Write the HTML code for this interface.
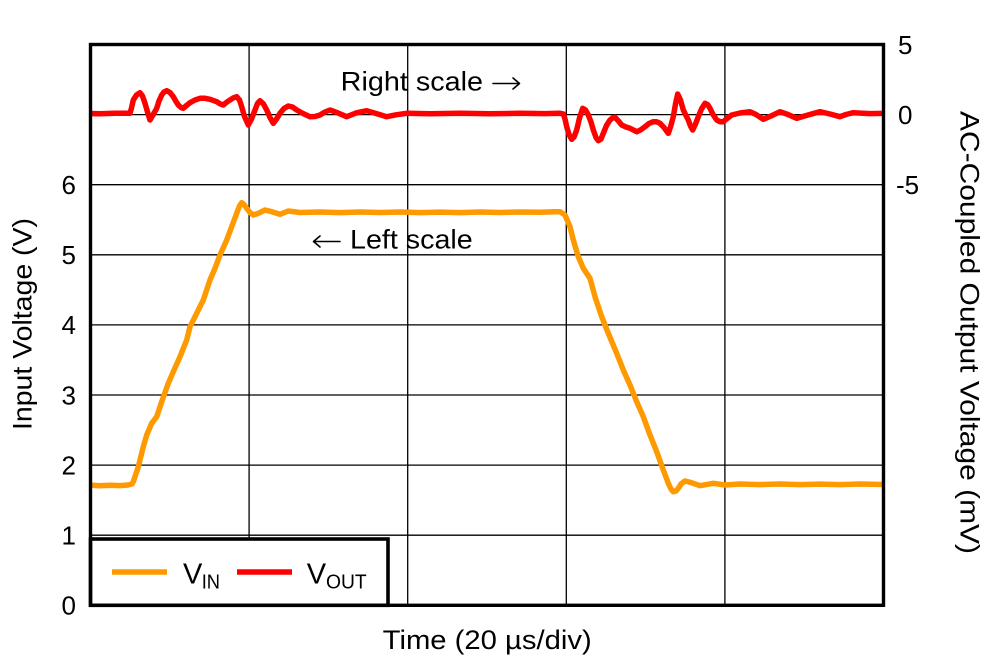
<!DOCTYPE html>
<html>
<head>
<meta charset="utf-8">
<style>
  html, body { margin: 0; padding: 0; background: #ffffff; }
  svg { display: block; }
  text { font-family: "Liberation Sans", Arial, sans-serif; fill: #000; }
</style>
</head>
<body>
<svg width="998" height="668" viewBox="0 0 998 668" xmlns="http://www.w3.org/2000/svg">
  <defs>
    <clipPath id="plot">
      <rect x="90.5" y="44.5" width="793" height="561"/>
    </clipPath>
  </defs>
  <rect x="0" y="0" width="998" height="668" fill="#ffffff"/>

  <!-- grid -->
  <g stroke="#000" stroke-width="1.3" fill="none">
    <line x1="90.5" y1="535.2" x2="883.5" y2="535.2"/>
    <line x1="90.5" y1="465.1" x2="883.5" y2="465.1"/>
    <line x1="90.5" y1="395.0" x2="883.5" y2="395.0"/>
    <line x1="90.5" y1="324.9" x2="883.5" y2="324.9"/>
    <line x1="90.5" y1="254.8" x2="883.5" y2="254.8"/>
    <line x1="90.5" y1="184.7" x2="883.5" y2="184.7"/>
    <line x1="90.5" y1="114.6" x2="883.5" y2="114.6"/>
    <line x1="249.1" y1="44.5" x2="249.1" y2="605.3"/>
    <line x1="407.7" y1="44.5" x2="407.7" y2="605.3"/>
    <line x1="566.3" y1="44.5" x2="566.3" y2="605.3"/>
    <line x1="724.9" y1="44.5" x2="724.9" y2="605.3"/>
  </g>

  <!-- traces -->
  <g clip-path="url(#plot)" fill="none" stroke-width="5.5" stroke-linejoin="round" stroke-linecap="round">
    <polyline stroke="#FF9900" points="88,485 100,485.8 110,485.2 120,485.6 128,485 132,484 133.3,481.7 138.3,466.7 143.3,446.7 146.7,435 151.7,423.3 156.7,416.7 161.7,401.7 168.3,383.3 173.3,371.7 180,356.7 186.7,340 190,326.7 196.7,313.3 203.3,300 210,280 215,268.3 220,255 226.7,240 231.7,226.7 236.7,213.3 239.5,206 241.7,202.7 244,204.5 246.7,208.3 250,212.5 253.3,215 258.3,213.3 265,210 271.7,211.7 280,214.3 288.3,211 300,212.5 320,212 340,212.6 360,212 380,212.5 400,212 420,212.6 440,212.1 460,212.6 480,212 500,212.5 520,212 540,212.2 555,211.7 560,211.7 565,215 570,226.7 573.3,240 578.3,256.7 583.3,268.3 590,278.3 595,296.7 601.7,316.7 608.3,333.3 616.7,353.3 623.3,370 630,385 636.7,401.7 643.3,416.7 650,435 656.7,451.7 663.3,470 668.3,483.3 671,489 673.3,491.7 676,491 678.3,488.3 681,484 685,481 689,482 693.3,483.3 700,485.7 713.3,483.3 725,485 740,484 760,484.6 780,484 800,484.6 820,484.1 840,484.6 860,484 886,484.5"/>
    <polyline stroke="#FF0000" points="88,113.5 100,113.8 115,113.2 130,113.3 131.5,108 133.3,100 136.5,95 140,92.7 142.5,96 145,103.3 147.5,112 150,120 153,115 156.7,108.3 159,101 161.7,95 164,92 166.7,90.7 170,92.5 173.3,96.7 176,101.5 178.3,105 181,107.5 183.3,108.3 186.5,105.5 190,102.7 195,100 200,98.3 205,98.3 210,99.3 216.7,101.7 220,103.8 223.3,105 227,102 230,100 233.5,97.8 236.7,96.7 239.5,100 241.7,106.7 244.5,116.5 248.3,125 251.5,119 255,110 257.5,103.5 260,100.7 263.5,104 266.7,110 270,117.5 273.3,123.3 276.5,119 280,113.3 284,108.5 288.3,106 292.5,107 296.7,110 303,113.5 310,116.7 315,116.5 320,115 325,112 330,110 338,113 346.7,116.7 356,113 366.7,110.7 376,113.5 386.7,116.7 396,114.8 406.7,113.3 430,113.8 460,113.2 490,113.8 520,113.3 545,113.6 560,113.3 563.3,114 565,119 566.7,126.7 569,134.5 571.7,139.3 574,137 576.7,130 579.5,118 582.7,108.3 585.5,110 588.3,115 591,122 593.3,130 596,137.5 598.3,140.7 601,139 603.3,133.3 606.5,125.5 610,120 612.5,118 615,117.3 618.5,121 621.7,125 626,127 630,128.3 636.7,131.7 640.5,130 645,126.7 649,123.5 653.3,121.7 656.5,121.7 660,123.3 664,127.5 668.3,133.3 670.5,127 673.3,116.7 675.5,104 677.7,94 680.5,100 683.3,110 686,115.5 688.3,120 690.5,126 692.7,130 695.5,124 698.3,116.7 701.5,109 705,103.3 707.5,104.5 710,108.3 713,114.5 716.7,120 720,121.7 723.3,121.7 727,118.5 731.7,115 740,113 750,111.7 756,114.5 763.3,119.3 771,116 780,111.7 788,114.5 796.7,118.3 808,115 820,111.7 830,114 840,116.7 846,114.5 853.3,112.7 870,113.6 886,113.3"/>
  </g>

  <!-- annotations -->
  <text x="340.7" y="90.7" font-size="27" textLength="142.3" lengthAdjust="spacingAndGlyphs">Right scale</text>
  <g stroke="#000" stroke-width="1.6" fill="none" stroke-linecap="round" stroke-linejoin="round">
    <line x1="493" y1="83.5" x2="519" y2="83.5"/>
    <polyline points="513,78 519.5,83.5 513,89"/>
    <line x1="314" y1="241.5" x2="340" y2="241.5"/>
    <polyline points="320,236 313.5,241.5 320,247"/>
  </g>
  <text x="350" y="248.3" font-size="27" textLength="122.7" lengthAdjust="spacingAndGlyphs">Left scale</text>

  <!-- legend -->
  <rect x="90.5" y="539" width="297.5" height="66.3" fill="#ffffff" stroke="#000" stroke-width="3.6"/>
  <line x1="112" y1="572" x2="167" y2="572" stroke="#FF9900" stroke-width="5.5"/>
  <line x1="237" y1="572" x2="292" y2="572" stroke="#FF0000" stroke-width="5.5"/>
  <text x="183" y="583.3" font-size="29">V</text>
  <text x="201.7" y="588.3" font-size="20" textLength="18.3" lengthAdjust="spacingAndGlyphs">IN</text>
  <text x="306.7" y="583.3" font-size="29">V</text>
  <text x="326" y="588.3" font-size="20" textLength="40.7" lengthAdjust="spacingAndGlyphs">OUT</text>

  <!-- frame -->
  <rect x="90.5" y="44.5" width="793" height="560.8" fill="none" stroke="#000" stroke-width="3.4"/>

  <!-- left tick labels -->
  <g font-size="26" text-anchor="end">
    <text x="76" y="614.6">0</text>
    <text x="76" y="544.5">1</text>
    <text x="76" y="474.4">2</text>
    <text x="76" y="404.3">3</text>
    <text x="76" y="334.2">4</text>
    <text x="76" y="264.1">5</text>
    <text x="76" y="194.0">6</text>
  </g>

  <!-- right tick labels -->
  <g font-size="26">
    <text x="898" y="53.8">5</text>
    <text x="898" y="123.9">0</text>
    <text x="896" y="194.0">-5</text>
  </g>

  <!-- axis titles -->
  <text x="487.2" y="649" font-size="27" text-anchor="middle" textLength="209" lengthAdjust="spacingAndGlyphs">Time (20 µs/div)</text>
  <text transform="translate(31.7,324) rotate(-90)" x="0" y="0" font-size="27" text-anchor="middle" textLength="212" lengthAdjust="spacingAndGlyphs">Input Voltage (V)</text>
  <text transform="translate(960.5,332.5) rotate(90)" x="0" y="0" font-size="27" text-anchor="middle" textLength="443" lengthAdjust="spacingAndGlyphs">AC-Coupled Output Voltage (mV)</text>
</svg>
</body>
</html>
